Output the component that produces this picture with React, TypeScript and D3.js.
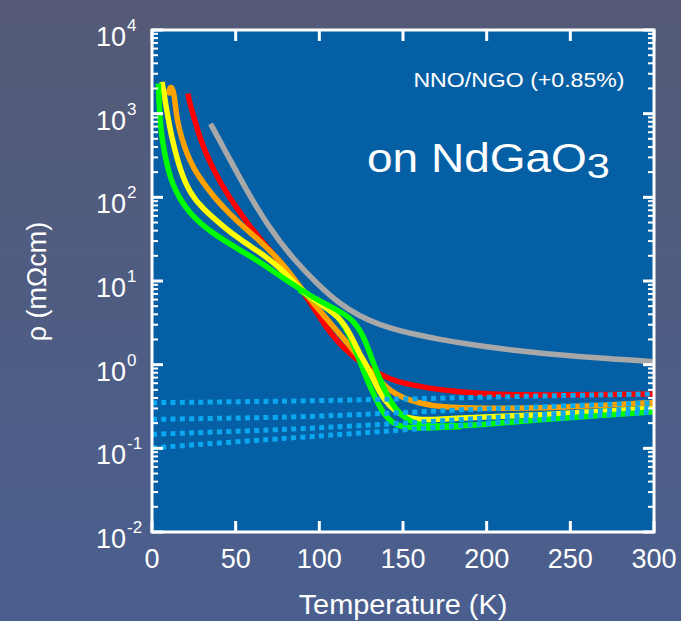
import React from "react";
import * as d3 from "d3";

// Temperature (K), resistivity (mΩcm) pairs for each film
const grayCurve: [number, number][] = [
  [35, 759], [45, 324], [56, 126], [69.5, 44.7], [84.4, 18.2], [100, 8.71],
  [112, 5.37], [124, 3.8], [136, 2.99], [148, 2.54], [160, 2.24], [172, 2.0],
  [190, 1.74], [212, 1.51], [252, 1.245], [300, 1.087],
];

const redCurve: [number, number][] = [
  [21.5, 1740], [22.3, 1400], [24.7, 955], [28.5, 525], [32.7, 316], [40, 158],
  [48.6, 85], [57, 49], [66.5, 28.8], [73, 20.4], [80, 13.8], [88, 8.5],
  [95, 5.4], [103, 3.0], [111, 1.86], [120, 1.26], [127, 1.0], [134, 0.8],
  [142, 0.68], [150, 0.6], [166, 0.52], [182, 0.476], [200, 0.447],
  [220, 0.435], [250, 0.435], [275, 0.44], [300, 0.447],
];

const orangeCurve: [number, number][] = [
  [9.5, 1660], [10.8, 2140], [12.5, 2000], [13.8, 1410], [14.7, 890],
  [17.5, 525], [20.7, 339], [25, 219], [30.7, 148], [38, 95.5], [46.6, 63],
  [55, 43.6], [64.5, 30.2], [72, 21.4], [80, 14.5], [88, 8.7], [96, 5.6],
  [104, 3.6], [112, 2.34], [120, 1.51], [127, 1.0], [133, 0.74], [138, 0.59],
  [143, 0.48], [150, 0.4], [160, 0.347], [172, 0.309], [200, 0.299],
  [232, 0.302], [265, 0.324], [300, 0.352],
];

const yellowCurve: [number, number][] = [
  [6, 2400], [7.5, 1585], [8.8, 1100], [10.5, 708], [12.5, 457], [16.7, 214],
  [22.7, 112], [30, 74], [42.6, 44.7], [53, 30.9], [64.5, 21.9], [72.5, 16.6],
  [80, 12.3], [88, 8.1], [100, 5.4], [106, 4.5], [112, 3.6], [116, 2.8],
  [120, 2.0], [124, 1.35], [130, 0.85], [136, 0.457], [142, 0.316],
  [150, 0.24], [158, 0.221], [166, 0.219], [182, 0.229], [200, 0.237],
  [232, 0.251], [265, 0.275], [300, 0.301],
];

const limeCurve: [number, number][] = [
  [88, 7.8], [100, 5.4], [108, 4.27], [113, 3.39], [118, 2.29], [122, 1.41],
  [126, 0.89], [129, 0.63], [133, 0.417], [137, 0.288], [141, 0.224],
  [146, 0.19], [152, 0.178], [160, 0.174], [172, 0.178], [185, 0.182],
];

const greenCurve: [number, number][] = [
  [3.8, 2290], [4.3, 1260], [4.8, 850], [6, 500], [7.8, 316], [10, 200],
  [12.7, 138], [17, 93], [22.7, 64.6], [30, 46.8], [38.6, 34.7], [52.6, 23.4],
  [65, 16.6], [76, 11.7], [88, 8.1], [100, 5.75], [112, 4.37], [120, 3.47],
  [126, 2.29], [130, 1.41], [133, 0.955], [136, 0.69], [139, 0.5],
  [142, 0.38], [146, 0.29], [150, 0.24], [155, 0.209], [160, 0.19],
  [172, 0.184], [185, 0.186], [200, 0.195], [232, 0.219], [265, 0.245],
  [300, 0.274],
];

// Dotted reference curves
const refA: [number, number][] = [[0, 0.351], [50, 0.36], [100, 0.371], [172, 0.397], [232, 0.423], [300, 0.447]];
const refB: [number, number][] = [[0, 0.222], [50, 0.23], [100, 0.239], [182, 0.288], [240, 0.318], [300, 0.352]];
const refC: [number, number][] = [[0, 0.147], [50, 0.16], [100, 0.174], [182, 0.218], [240, 0.26], [300, 0.304]];
const refD: [number, number][] = [[0, 0.101], [50, 0.12], [100, 0.14], [182, 0.185], [240, 0.228], [300, 0.272]];

const xTicks = [0, 50, 100, 150, 200, 250, 300];
const yExponents = [-2, -1, 0, 1, 2, 3, 4];

const solidSeries = [
  { data: grayCurve, color: "#a8a8a8" },
  { data: redCurve, color: "#ff0000" },
  { data: orangeCurve, color: "#ffa200" },
  { data: limeCurve, color: "#00ff00" },
  { data: yellowCurve, color: "#ffff00" },
  { data: greenCurve, color: "#00ff00" },
];
const dottedSeries = [refA, refB, refC, refD];

const W = 681;
const H = 621;
const FONT = "'Liberation Sans', Arial, Helvetica, sans-serif";

export default function App() {
  const x = d3.scaleLinear().domain([0, 300]).range([152, 654]);
  const y = d3.scaleLog().domain([1e-2, 1e4]).range([532, 30]);

  const line = d3
    .line<[number, number]>()
    .x((d) => x(d[0]))
    .y((d) => y(d[1]))
    .curve(d3.curveBasis);

  const minorTicks: number[] = [];
  for (let e = -2; e < 4; e++) {
    for (let m = 2; m <= 9; m++) minorTicks.push(m * Math.pow(10, e));
  }
  const [x0, x1] = x.range();
  const [yB, yT] = y.range();

  return (
    <svg
      width={W}
      height={H}
      style={{ position: "absolute", left: 0, top: 0 }}
      fontFamily={FONT}
    >
      <defs>
        <linearGradient id="bg" x1="0" y1="0" x2="0" y2="1">
          <stop offset="0" stopColor="#545a76" />
          <stop offset="1" stopColor="#4a5f8f" />
        </linearGradient>
        <clipPath id="plotClip">
          <rect x={x0} y={yT} width={x1 - x0} height={yB - yT} />
        </clipPath>
      </defs>
      <rect width={W} height={H} fill="url(#bg)" />
      <rect x={x0} y={yT} width={x1 - x0} height={yB - yT} fill="#055fa5" />

      <g clipPath="url(#plotClip)">
        {solidSeries.map((s, i) => (
          <path
            key={i}
            d={line(s.data) || ""}
            fill="none"
            stroke={s.color}
            strokeWidth={5.5}
            strokeLinejoin="round"
          />
        ))}
        {dottedSeries.map((s, i) => (
          <path
            key={i}
            d={line(s) || ""}
            fill="none"
            stroke="#0aa8f0"
            strokeWidth={5}
            strokeDasharray="5 4.3"
          />
        ))}
      </g>

      {/* axis ticks, pointing into the plot on all four sides */}
      <g stroke="#ffffff">
        {minorTicks.map((v, i) => (
          <g key={i} strokeWidth={2}>
            <line x1={x0} x2={x0 + 6} y1={y(v)} y2={y(v)} />
            <line x1={x1} x2={x1 - 6} y1={y(v)} y2={y(v)} />
          </g>
        ))}
        {yExponents.map((e) => (
          <g key={e} strokeWidth={3}>
            <line x1={x0} x2={x0 + 11} y1={y(Math.pow(10, e))} y2={y(Math.pow(10, e))} />
            <line x1={x1} x2={x1 - 11} y1={y(Math.pow(10, e))} y2={y(Math.pow(10, e))} />
          </g>
        ))}
        {xTicks.map((t) => (
          <g key={t} strokeWidth={3}>
            <line x1={x(t)} x2={x(t)} y1={yB} y2={yB - 11} />
            <line x1={x(t)} x2={x(t)} y1={yT} y2={yT + 11} />
          </g>
        ))}
      </g>
      <rect
        x={x0}
        y={yT}
        width={x1 - x0}
        height={yB - yT}
        fill="none"
        stroke="#ffffff"
        strokeWidth={3}
      />

      {/* tick labels */}
      <g fill="#ffffff">
        {xTicks.map((t) => (
          <text key={t} x={x(t)} y={568} fontSize={27} textAnchor="middle">
            {t}
          </text>
        ))}
        {yExponents.map((e) => (
          <g key={e}>
            <text x={126} y={y(Math.pow(10, e)) + 16} fontSize={27} textAnchor="end">
              10
            </text>
            <text x={127} y={y(Math.pow(10, e)) + 1} fontSize={17}>
              {e}
            </text>
          </g>
        ))}
      </g>

      <text
        transform="translate(403,614) scale(1.07,1)"
        fontSize={27}
        fill="#ffffff"
        textAnchor="middle"
      >
        Temperature (K)
      </text>
      <text
        transform="translate(46,281.5) rotate(-90)"
        fontSize={27}
        fill="#ffffff"
        textAnchor="middle"
      >
        ρ (mΩcm)
      </text>

      <text
        transform="translate(624.5,87) scale(1.1,1)"
        fontSize={21}
        fill="#ffffff"
        textAnchor="end"
      >
        NNO/NGO (+0.85%)
      </text>
      <text transform="translate(367,172) scale(1.15,1)" fontSize={40} fill="#ffffff">
        on NdGaO
        <tspan fontSize={36} dy={6}>3</tspan>
      </text>
    </svg>
  );
}
